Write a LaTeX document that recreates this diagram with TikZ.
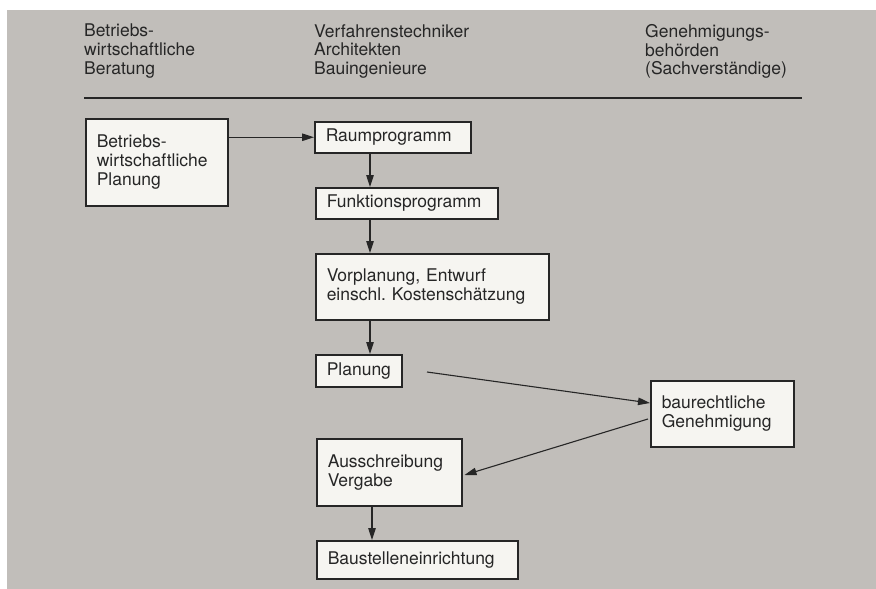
\documentclass[tikz,border=0pt]{standalone}
\usepackage{fontspec}
\setmainfont{TeX Gyre Heros}
\usetikzlibrary{arrows.meta,calc}
\definecolor{bg}{RGB}{193,190,186}
\definecolor{boxfill}{RGB}{246,245,241}
\definecolor{ink}{RGB}{38,38,38}
\begin{document}
\begin{tikzpicture}[x=1pt,y=-1pt,
  every node/.style={font=\fontsize{17.5}{18.8}\selectfont, text=ink},
  hdr/.style={anchor=north west, inner sep=0pt, align=left},
  pbox/.style={draw=ink, line width=1.5pt, fill=boxfill, anchor=north west,
     inner xsep=11pt, inner ysep=0pt, align=left},
  conn/.style={draw=ink, line width=1.1pt, -{Triangle[length=12pt,width=7.5pt]}}]
\useasboundingbox (0,0) rectangle (876,589);
\fill[white] (0,0) rectangle (876,589);
\fill[bg] (7,10) rectangle (876,589);
% header
\node[hdr] (h1) at (84,24) {Betriebs-\\wirtschaftliche\\Beratung};
\node[hdr] (h2) at (314,24) {Verfahrenstechniker\\Architekten\\Bauingenieure};
\node[hdr] (h3) at (645,24) {Genehmigungs-\\behörden\\(Sachverständige)};
\coordinate (l1) at (84,98);
\coordinate (l2) at (802,98);
\draw[ink, line width=2.5pt] (l1) -- (l2);
% boxes
\node[pbox, text width=120pt, minimum height=87pt] (bp) at (85,118) {Betriebs-\\wirtschaftliche\\Planung};
\node[pbox, text width=134pt, minimum height=31pt] (raum) at (314,121) {Raumprogramm};
\node[pbox, text width=160pt, minimum height=31pt] (funk) at (315,187) {Funktionsprogramm};
\node[pbox, text width=211pt, minimum height=66pt] (vor) at (315,253) {Vorplanung, Entwurf\\einschl.\ Kostenschätzung};
\node[pbox, text width=64pt, minimum height=32pt] (plan) at (315,354) {Planung};
\node[pbox, text width=121pt, minimum height=66pt] (gen) at (650,380) {baurechtliche\\Genehmigung};
\node[pbox, text width=123pt, minimum height=67pt] (aus) at (316,438) {Ausschreibung\\Vergabe};
\node[pbox, text width=179pt, minimum height=38pt] (bau) at (316,540) {Baustelleneinrichtung};
% connectors
\draw[conn] (bp.east |- raum.west) -- (raum.west);
\draw[conn] ($(raum.south west)+(56,0)$) -- ($(funk.north west)+(55,0)$);
\draw[conn] ($(funk.south west)+(55,0)$) -- ($(vor.north west)+(55,0)$);
\draw[conn] ($(vor.south west)+(55,0)$) -- ($(plan.north west)+(55,0)$);
\coordinate (p1) at (427,372);
\draw[conn] (p1) -- ($(gen.north west)+(0,23)$);
\draw[conn] ($(gen.north west)+(-2,39)$) -- ($(aus.north east)+(2,37)$);
\draw[conn] ($(aus.south west)+(56,0)$) -- ($(bau.north west)+(56,0)$);
\end{tikzpicture}
\end{document}
